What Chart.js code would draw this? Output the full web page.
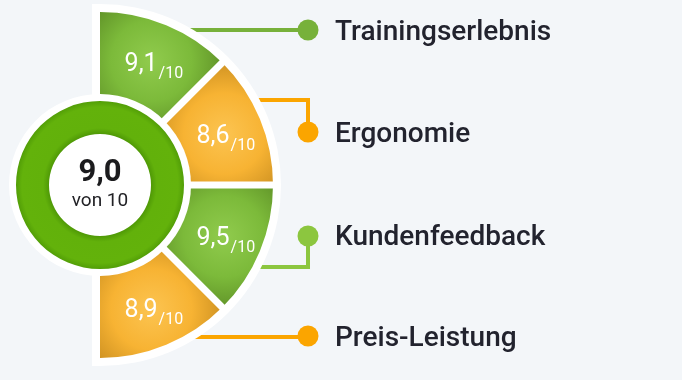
<!DOCTYPE html>
<html><head><meta charset="utf-8">
<script src="https://cdn.jsdelivr.net/npm/chart.js@4"></script>
<style>
html,body{margin:0;padding:0;background:#f3f6f9;}
#wrap{position:relative;width:682px;height:380px;overflow:hidden;}
canvas{display:block;}
</style></head>
<body><div id="wrap"><canvas id="c" width="682" height="380"></canvas></div>
<script>
// ---- data ----
const categories = ['Trainingserlebnis', 'Ergonomie', 'Kundenfeedback', 'Preis-Leistung'];
const scores = [9.1, 8.6, 9.5, 8.9];
const maxScore = 10;
const overallScore = 9.0;
const overallLabel = 'von';
const segmentShares = [1, 1, 1, 1]; // every category gets the same angular share

// ---- styles / layout ----
const CX = 100, CY = 185;
const wedgePalette = [
  {light:'#90cb4d', base:'#7cba3a', dark:'#527f1f'},
  {light:'#fcc451', base:'#f7b333', dark:'#b98019'},
  {light:'#90cb4d', base:'#7cba3a', dark:'#527f1f'},
  {light:'#fcc451', base:'#f7b333', dark:'#b98019'}
];
const connectorColors = ['#77b13a', '#fba500', '#8cc63f', '#fba500'];
const connectorY = [30, 100, 267, 337];
const rowCenterY = [30, 132, 236, 336];
const rowBaseline = [40, 142, 245, 346];
const DOT_X = 308, TEXT_X = 335;

const fmt = v => v.toFixed(1).replace('.', ',');

function chartCenter(chart) {
  const a = chart.chartArea;
  return {cx: (a.left + a.right) / 2, cy: (a.top + a.bottom) / 2};
}

function wedgeFill(context) {
  const chart = context.chart;
  const p = wedgePalette[context.dataIndex % wedgePalette.length];
  if (!chart.chartArea) return p.base;
  const ctrl = chart.getDatasetMeta(context.datasetIndex).controller;
  if (!isFinite(ctrl.outerRadius) || !isFinite(ctrl.innerRadius)) return p.base;
  const {cx, cy} = chartCenter(chart);
  const ds = context.dataset;
  const total = ds.data.reduce((s, v) => s + v, 0);
  let before = 0;
  for (let i = 0; i < context.dataIndex; i++) before += ds.data[i];
  const start = (ds.rotation - 90) * Math.PI / 180;
  const span = ds.circumference * Math.PI / 180;
  const mid = start + span * (before + ds.data[context.dataIndex] / 2) / total;
  const rr = (ctrl.outerRadius + ctrl.innerRadius) / 2 + 6;
  const px = cx + rr * Math.cos(mid), py = cy + rr * Math.sin(mid);
  if (!isFinite(px) || !isFinite(py)) return p.base;
  const g = chart.ctx.createRadialGradient(px, py, 0, px, py, 90);
  g.addColorStop(0, p.light);
  g.addColorStop(0.45, p.base);
  g.addColorStop(1, p.dark);
  return g;
}

function ringFill(context) {
  const chart = context.chart;
  if (!chart.chartArea) return '#62b10b';
  const ctrl = chart.getDatasetMeta(context.datasetIndex).controller;
  if (!isFinite(ctrl.outerRadius) || !isFinite(ctrl.innerRadius)) return '#62b10b';
  const {cx, cy} = chartCenter(chart);
  const g = chart.ctx.createRadialGradient(cx, cy, ctrl.innerRadius, cx, cy, ctrl.outerRadius);
  g.addColorStop(0, '#4f9906');
  g.addColorStop(0.18, '#62b10b');
  g.addColorStop(0.82, '#63b20b');
  g.addColorStop(1, '#529e07');
  return g;
}

const decor = {
  id: 'decor',
  beforeDatasetsDraw(chart) {
    const ctx = chart.ctx;
    const meta0 = chart.getDatasetMeta(0);
    const {cx, cy} = chartCenter(chart);
    const R = meta0.controller.outerRadius;
    ctx.save();
    categories.forEach((c, i) => {
      ctx.strokeStyle = connectorColors[i];
      ctx.lineWidth = 4;
      ctx.beginPath();
      ctx.moveTo(cx, connectorY[i]);
      ctx.lineTo(DOT_X, connectorY[i]);
      ctx.lineTo(DOT_X, rowCenterY[i]);
      ctx.stroke();
      ctx.fillStyle = connectorColors[i];
      ctx.beginPath();
      ctx.arc(DOT_X, rowCenterY[i], 10.5, 0, Math.PI * 2);
      ctx.fill();
    });
    const W = 8;
    ctx.fillStyle = '#ffffff';
    ctx.beginPath();
    ctx.moveTo(cx - W, cy - R - W);
    ctx.lineTo(cx, cy - R - W);
    ctx.arc(cx, cy, R + W, -Math.PI / 2, Math.PI / 2);
    ctx.lineTo(cx - W, cy + R + W);
    ctx.closePath();
    ctx.fill();
    ctx.restore();
  },
  afterDatasetDraw(chart, args) {
    if (args.index !== 0) return;
    const ctx = chart.ctx;
    const meta0 = chart.getDatasetMeta(0);
    const meta1 = chart.getDatasetMeta(1);
    const {cx, cy} = chartCenter(chart);
    const R = meta0.controller.outerRadius;
    ctx.save();
    ctx.strokeStyle = '#ffffff';
    ctx.lineWidth = 7;
    meta0.data.forEach((arc, i) => {
      if (i === 0) return;
      const a = arc.startAngle;
      ctx.beginPath();
      ctx.moveTo(cx, cy);
      ctx.lineTo(cx + (R + 4) * Math.cos(a), cy + (R + 4) * Math.sin(a));
      ctx.stroke();
    });
    ctx.fillStyle = '#ffffff';
    ctx.beginPath();
    ctx.arc(cx, cy, meta1.controller.outerRadius + 7, 0, Math.PI * 2);
    ctx.fill();
    ctx.restore();
  },
  afterDatasetsDraw(chart) {
    const ctx = chart.ctx;
    const meta0 = chart.getDatasetMeta(0);
    const {cx, cy} = chartCenter(chart);
    ctx.save();
    meta0.data.forEach((arc, i) => {
      const mid = (arc.startAngle + arc.endAngle) / 2;
      const rr = 133;
      const px = cx + rr * Math.cos(mid), py = cy + rr * Math.sin(mid);
      const main = fmt(scores[i]);
      const sub = '/' + maxScore;
      ctx.font = '400 25px Roboto';
      const wm = ctx.measureText(main).width;
      ctx.font = '400 16px Roboto';
      const ws = ctx.measureText(sub).width;
      const gap = 1;
      const x0 = px - (wm + gap + ws) / 2 + 3;
      const base = py + 9;
      ctx.fillStyle = '#ffffff';
      ctx.textAlign = 'left';
      ctx.textBaseline = 'alphabetic';
      ctx.font = '400 25px Roboto';
      ctx.fillText(main, x0, base);
      ctx.font = '400 16px Roboto';
      ctx.fillText(sub, x0 + wm + gap, base + 7);
    });
    ctx.textAlign = 'center';
    ctx.fillStyle = '#1c1c1e';
    ctx.font = '700 31px Roboto';
    ctx.fillText(fmt(overallScore), cx, 181);
    ctx.font = '400 19px Roboto';
    ctx.fillStyle = '#222226';
    ctx.fillText(overallLabel + ' ' + maxScore, cx, 206);
    ctx.textAlign = 'left';
    ctx.fillStyle = '#22232e';
    ctx.font = '500 28px Roboto';
    categories.forEach((c, i) => ctx.fillText(c, TEXT_X, rowBaseline[i]));
    ctx.restore();
  }
};

new Chart(document.getElementById('c'), {
  type: 'doughnut',
  data: {
    labels: categories,
    datasets: [
      {data: segmentShares, rotation: 0, circumference: 180, weight: 89,
       borderWidth: 0, backgroundColor: wedgeFill, clip: false},
      {data: [overallScore], rotation: 0, circumference: 360, weight: 33,
       borderWidth: 0, backgroundColor: ringFill, clip: false, order: -1}
    ]
  },
  options: {
    responsive: false,
    animation: false,
    radius: 173,
    cutout: (51 / 173 * 100).toFixed(2) + '%',
    layout: {padding: {left: 0, right: 682 - 2 * CX, top: 0, bottom: 380 - 2 * CY}},
    plugins: {legend: {display: false}, tooltip: {enabled: false}},
    events: []
  },
  plugins: [decor]
});
</script>
</body></html>
